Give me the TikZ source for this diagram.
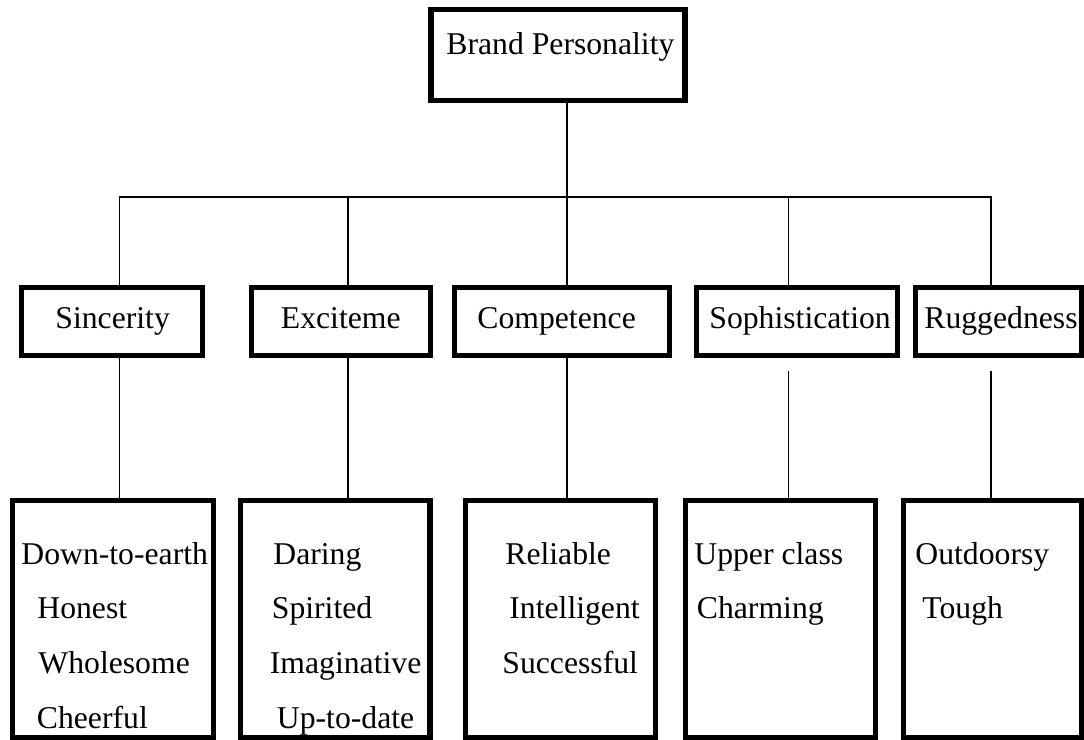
\documentclass[tikz,border=0pt]{standalone}
\usepackage{fontspec}
\setmainfont{Liberation Serif}
\begin{document}
\begin{tikzpicture}[x=0.5pt,y=-0.5pt,
  box/.style 2 args={draw, line width=2.6pt, rectangle, inner sep=0pt,
    minimum width={#1*0.5pt}, minimum height={#2*0.5pt}},
  lbl/.style={anchor=base west, inner sep=0pt, font=\fontsize{15.85}{19}\selectfont},
  link/.style={line width=0.95pt}]
\useasboundingbox (0,0) rectangle (1084,740);

% root
\node[box={254}{91}] (root) at (558,55) {};
\node[lbl] (troot) at (446,54) {Brand Personality};

% dimensions
\node[box={181}{68}] (sinc) at (112,321.5) {};
\node[box={179}{68}] (exci) at (341,321.5) {};
\node[box={215}{68}] (comp) at (562,321.5) {};
\node[box={201}{68}] (soph) at (797,321.5) {};
\node[box={166}{68}] (rugg) at (998.5,321.5) {};
\node[lbl] (tsinc) at (55,328) {Sincerity};
\node[lbl] (texci) at (280.5,328) {Exciteme};
\node[lbl] (tcomp) at (477,328) {Competence};
\node[lbl] (tsoph) at (709,328) {Sophistication};
\node[lbl] (trugg) at (924,328) {Ruggedness};

% facets
\node[box={201}{237}] (fsinc) at (113,619) {};
\node[box={189.5}{237}] (fexci) at (335.25,619) {};
\node[box={190}{237}] (fcomp) at (560.5,619) {};
\node[box={190}{237}] (fsoph) at (780.5,619) {};
\node[box={178}{237}] (frugg) at (992.5,619) {};

\node[lbl] (a1) at (21,564.5) {Down-to-earth};
\node[lbl] (a2) at (37,618) {Honest};
\node[lbl] (a3) at (38,673) {Wholesome};
\node[lbl] (a4) at (36.5,728) {Cheerful};

\node[lbl] (b1) at (273,564.5) {Daring};
\node[lbl] (b2) at (271.5,618) {Spirited};
\node[lbl] (b3) at (269.5,673) {Imaginative};
\node[lbl] (b4) at (276.5,728) {Up-to-date};

\node[lbl] (c1) at (505,564.5) {Reliable};
\node[lbl] (c2) at (509,618) {Intelligent};
\node[lbl] (c3) at (502,673) {Successful};

\node[lbl] (d1) at (694,564.5) {Upper class};
\node[lbl] (d2) at (696.5,618) {Charming};

\node[lbl] (e1) at (915,564.5) {Outdoorsy};
\node[lbl] (e2) at (922,618) {Tough};

% bus junctions
\coordinate (j1) at (119.5,197);
\coordinate (j2) at (348,197);
\coordinate (j3) at (567,197);
\coordinate (j4) at (788.5,197);
\coordinate (j5) at (991,197);

% connectors
\draw[link] (root.south -| j3) -- (j3);
\draw[link, line cap=rect] (j1) -- (j5);
\draw[link] (j1) -- (j1 |- sinc.north);
\draw[link] (j2) -- (j2 |- exci.north);
\draw[link] (j3) -- (j3 |- comp.north);
\draw[link] (j4) -- (j4 |- soph.north);
\draw[link] (j5) -- (j5 |- rugg.north);

\draw[link] (sinc.south -| j1) -- (j1 |- fsinc.north);
\draw[link] (exci.south -| j2) -- (j2 |- fexci.north);
\draw[link] (comp.south -| j3) -- (j3 |- fcomp.north);
\draw[link] ([yshift=-6.25pt]soph.south -| j4) -- (j4 |- fsoph.north);
\draw[link] ([yshift=-6.25pt]rugg.south -| j5) -- (j5 |- frugg.north);
\end{tikzpicture}
\end{document}
